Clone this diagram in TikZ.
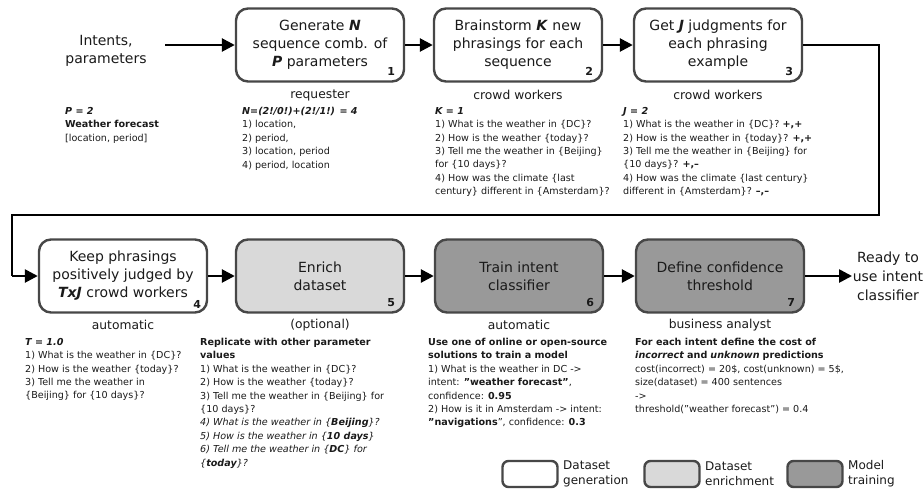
\documentclass[tikz,border=0pt]{standalone}
\usepackage{fontspec}
\setmainfont{DejaVu Sans}
\usetikzlibrary{arrows.meta}
\definecolor{edgec}{HTML}{474747}
\definecolor{lightf}{HTML}{D9D9D9}
\definecolor{darkf}{HTML}{999999}
\definecolor{txt}{HTML}{1A1A1A}
\newcommand{\bi}[1]{\textbf{\textit{#1}}}
\newcommand{\qq}{\symbol{34}}
\begin{document}
\begin{tikzpicture}[x=1pt,y=-1pt,
  stepbox/.style={draw=edgec, line width=2.4pt, rounded corners=12pt, minimum width=168pt, minimum height=73pt, align=center, inner sep=2pt, text=txt, font=\fontsize{14}{18}\selectfont},
  numlab/.style={font=\bfseries\fontsize{11}{12}\selectfont, text=txt, inner sep=0pt},
  rolelab/.style={font=\fontsize{12.3}{14}\selectfont, text=txt, inner sep=0pt},
  block/.style={anchor=north west, align=left, inner sep=0pt, text=txt, font=\fontsize{9.6}{13.4}\selectfont},
  arr/.style={line width=2.6pt, -{Triangle[length=13pt, width=13pt]}},
  conn/.style={line width=2.6pt},
  legbox/.style={draw=edgec, line width=2.4pt, rounded corners=6pt, minimum width=55pt, minimum height=26pt},
  legtxt/.style={anchor=west, align=left, inner sep=0pt, text=txt, font=\fontsize{12}{15}\selectfont}
]
\useasboundingbox (0,0) rectangle (923,491);

% top row
\node[align=center, text=txt, font=\fontsize{14}{18}\selectfont, inner sep=1pt] (inp) at (106,51) {Intents,\\ parameters};
\node[stepbox, fill=white] (b1) at (320,45) {Generate \bi{N}\\ sequence comb. of\\ \bi{P} parameters};
\node[stepbox, fill=white] (b2) at (518,45) {Brainstorm \bi{K} new\\ phrasings for each\\ sequence};
\node[stepbox, fill=white] (b3) at (718,45) {Get \bi{J} judgments for\\ each phrasing\\ example};
\node[numlab] (n1) at ([shift={(-14,-11)}]b1.south east) {1};
\node[numlab] (n2) at ([shift={(-14,-11)}]b2.south east) {2};
\node[numlab] (n3) at ([shift={(-14,-11)}]b3.south east) {3};

\coordinate (ins) at (165,45);
\draw[arr] (ins) -- (b1.west);
\draw[arr] (b1) -- (b2);
\draw[arr] (b2) -- (b3);

\node[rolelab] (r1) at (320,95) {requester};
\node[rolelab] (r2) at (518,95) {crowd workers};
\node[rolelab] (r3) at (718,95) {crowd workers};

% bottom row
\node[stepbox, fill=white] (b4) at (123,276) {Keep phrasings\\ positively judged by\\ \bi{TxJ} crowd workers};
\node[stepbox, fill=lightf] (b5) at (320,276) {Enrich\\ dataset};
\node[stepbox, fill=darkf] (b6) at (519,276) {Train intent\\ classifier};
\node[stepbox, fill=darkf] (b7) at (720,276) {Define confidence\\ threshold};
\node[numlab] (n4) at ([shift={(-11,-9)}]b4.south east) {4};
\node[numlab] (n5) at ([shift={(-14,-11)}]b5.south east) {5};
\node[numlab] (n6) at ([shift={(-14,-11)}]b6.south east) {6};
\node[numlab] (n7) at ([shift={(-14,-11)}]b7.south east) {7};

\coordinate (c1) at (879,215);
\coordinate (c2) at (12,215);
\draw[conn] (b3.east) -| (c1) -- (c2) -- (c2 |- b4.west);
\draw[arr] (c2 |- b4.west) -- (b4.west);
\draw[arr] (b4) -- (b5);
\draw[arr] (b5) -- (b6);
\draw[arr] (b6) -- (b7);
\coordinate (outp) at (852,276);
\draw[arr] (b7.east) -- (outp);
\node[align=center, text=txt, font=\fontsize{14}{19}\selectfont, inner sep=0pt] (ready) at (888,276) {Ready to\\ use intent\\ classifier};

\node[rolelab] (r4) at (123,325) {automatic};
\node[rolelab] (r5) at (320,325) {(optional)};
\node[rolelab] (r6) at (519,325) {automatic};
\node[rolelab] (r7) at (720,325) {business analyst};

% text blocks top
\node[block] (tP) at (65,107) {\bi{P = 2}\\ \textbf{Weather forecast}\\ {}[location, period]};
\node[block] (tN) at (242,107) {\bi{N=(2!/0!)+(2!/1!) = 4}\\ 1) location,\\ 2) period,\\ 3) location, period\\ 4) period, location};
\node[block] (tK) at (435,107) {\bi{K = 1}\\ 1) What is the weather in \{DC\}?\\ 2) How is the weather \{today\}?\\ 3) Tell me the weather in \{Beijing\}\\ for \{10 days\}?\\ 4) How was the climate \{last\\ century\} different in \{Amsterdam\}?};
\node[block] (tJ) at (623,107) {\bi{J = 2}\\ 1) What is the weather in \{DC\}? \textbf{+,+}\\ 2) How is the weather in \{today\}? \textbf{+,+}\\ 3) Tell me the weather in \{Beijing\} for\\ \{10 days\}? \textbf{+,–}\\ 4) How was the climate \{last century\}\\ different in \{Amsterdam\}? \textbf{–,–}};

% text blocks bottom
\node[block] (tT) at (25,338) {\bi{T = 1.0}\\ 1) What is the weather in \{DC\}?\\ 2) How is the weather \{today\}?\\ 3) Tell me the weather in\\ \{Beijing\} for \{10 days\}?};
\node[block] (tR) at (200,338) {\textbf{Replicate with other parameter}\\ \textbf{values}\\ 1) What is the weather in \{DC\}?\\ 2) How is the weather \{today\}?\\ 3) Tell me the weather in \{Beijing\} for\\ \{10 days\}?\\ \textit{4) What is the weather in \{\textbf{Beijing}\}?}\\ \textit{5) How is the weather in \{\textbf{10 days}\}}\\ \textit{6) Tell me the weather in \{\textbf{DC}\} for}\\ \textit{\{\textbf{today}\}?}};
\node[block] (tU) at (428,338) {\textbf{Use one of online or open-source}\\ \textbf{solutions to train a model}\\ 1) What is the weather in DC ->\\ intent: \textbf{\qq weather forecast\qq},\\ confidence: \textbf{0.95}\\ 2) How is it in Amsterdam -> intent:\\ \textbf{\qq navigations}\qq, confidence: \textbf{0.3}};
\node[block] (tF) at (635,338) {\textbf{For each intent define the cost of}\\ \bi{incorrect} \textbf{and} \bi{unknown} \textbf{predictions}\\ cost(incorrect) = 20\$, cost(unknown) = 5\$,\\ size(dataset) = 400 sentences\\ ->\\ threshold(\qq weather forecast\qq) = 0.4};

% legend
\node[legbox, fill=white] (l1) at (530,474) {};
\node[legtxt] (lt1) at (563,474) {Dataset\\ generation};
\node[legbox, fill=lightf] (l2) at (672,474) {};
\node[legtxt] (lt2) at (705,474) {Dataset\\ enrichment};
\node[legbox, fill=darkf] (l3) at (815,474) {};
\node[legtxt] (lt3) at (848,474) {Model\\ training};
\end{tikzpicture}
\end{document}
